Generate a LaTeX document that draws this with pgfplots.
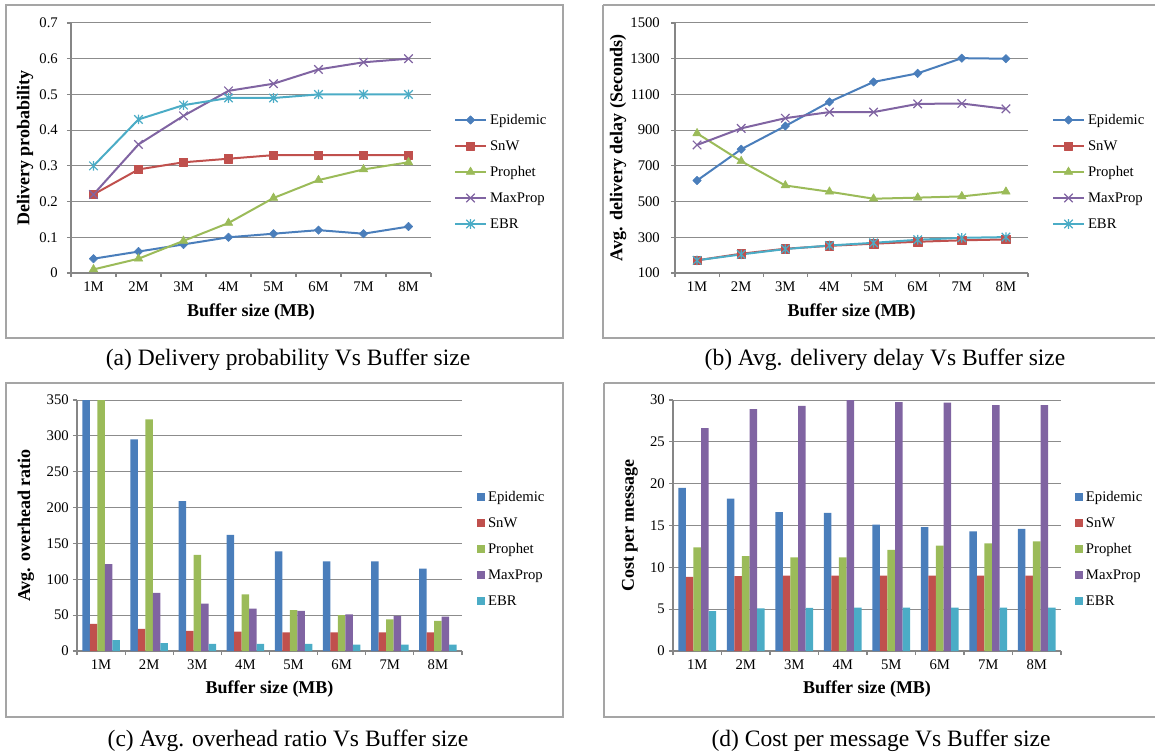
\documentclass[border=0pt]{standalone}
\usepackage{fontspec}
\setmainfont{Liberation Serif}
\usepackage{pgfplots}
\pgfplotsset{compat=1.18}
\usepackage{pgfplotstable}

\definecolor{cEpi}{RGB}{74,126,187}
\definecolor{cSnW}{RGB}{192,80,77}
\definecolor{cPro}{RGB}{155,187,89}
\definecolor{cMax}{RGB}{128,100,162}
\definecolor{cEBR}{RGB}{75,172,198}
\definecolor{axgray}{RGB}{134,134,134}
\definecolor{grgray}{RGB}{140,140,140}
\definecolor{frgray}{RGB}{165,165,165}

\pgfdeclareplotmark{xstar}{%
  \pgfpathmoveto{\pgfqpoint{-.7071\pgfplotmarksize}{-.7071\pgfplotmarksize}}%
  \pgfpathlineto{\pgfqpoint{.7071\pgfplotmarksize}{.7071\pgfplotmarksize}}%
  \pgfpathmoveto{\pgfqpoint{-.7071\pgfplotmarksize}{.7071\pgfplotmarksize}}%
  \pgfpathlineto{\pgfqpoint{.7071\pgfplotmarksize}{-.7071\pgfplotmarksize}}%
  \pgfpathmoveto{\pgfqpoint{0pt}{-.8\pgfplotmarksize}}%
  \pgfpathlineto{\pgfqpoint{0pt}{.8\pgfplotmarksize}}%
  \pgfusepathqstroke}

\newcommand\myTickFont{\rmfamily\mdseries\fontsize{14.7}{17}\selectfont}
\newcommand\myLabFont{\rmfamily\fontsize{18}{21}\selectfont\bfseries}
\newcommand\myCapFont{\rmfamily\fontsize{23.5}{27}\selectfont}

\pgfplotstableread{
x Epi SnW Pro Max EBR
1 0.04 0.22 0.01 0.22 0.30
2 0.06 0.29 0.04 0.36 0.43
3 0.08 0.31 0.09 0.44 0.47
4 0.10 0.32 0.14 0.51 0.49
5 0.11 0.33 0.21 0.53 0.49
6 0.12 0.33 0.26 0.57 0.50
7 0.11 0.33 0.29 0.59 0.50
8 0.13 0.33 0.31 0.60 0.50
}\tabA

\pgfplotstableread{
x Epi SnW Pro Max EBR
1 618 171 882 817 171
2 793 208 726 910 204
3 923 236 590 967 234
4 1058 252 555 1001 254
5 1170 264 516 1001 269
6 1218 275 522 1047 286
7 1303 283 529 1049 297
8 1300 288 555 1019 301
}\tabB

\pgfplotstableread{
x Epi SnW Pro Max EBR
1 380 38 380 121 15
2 295 31 323 81 11
3 209 28 134 66 10
4 162 27 79 59 10
5 139 26 57 56 10
6 125 26 50 51 9
7 125 26 44 49 9
8 115 26 42 48 9
}\tabC

\pgfplotstableread{
x Epi SnW Pro Max EBR
1 19.5 8.85 12.4 26.65 4.78
2 18.2 8.95 11.35 28.9 5.1
3 16.6 9.0 11.2 29.3 5.15
4 16.5 9.0 11.2 30.0 5.18
5 15.1 9.0 12.1 29.75 5.18
6 14.8 9.0 12.6 29.7 5.18
7 14.3 9.0 12.85 29.4 5.18
8 14.6 9.0 13.1 29.4 5.18
}\tabD

\pgfplotsset{
  panel/.style={
    scale only axis, anchor=south west,
    xmin=0.5, xmax=8.5,
    xtick={1,2,3,4,5,6,7,8},
    xticklabels={1M,2M,3M,4M,5M,6M,7M,8M},
    minor xtick={0.5,1.5,2.5,3.5,4.5,5.5,6.5,7.5,8.5},
    major x tick style={draw=none},
    tick align=outside,
    major tick length=4pt, minor tick length=4pt,
    axis x line*=bottom, axis y line*=left,
    axis line style={draw=axgray, line width=1.1pt},
    tick style={draw=axgray, line width=1.1pt},
    ymajorgrids, grid style={draw=grgray, line width=1pt},
    tick label style={font=\myTickFont},
    xticklabel style={anchor=north, inner sep=0pt, yshift=-5pt},
    yticklabel style={anchor=east, inner sep=0pt},
    /pgf/number format/assume math mode=true,
    /pgf/number format/1000 sep={},
    xlabel={Buffer size (MB)},
    label style={font=\myLabFont},
    legend style={draw=none, fill=none, inner sep=0pt, outer sep=0pt,
      row sep=11pt, font=\myTickFont, anchor=west,
      nodes={inner ysep=0pt, text height=12pt, text depth=3pt}},
    legend cell align=left,
  },
  lines/.style={
    legend image code/.code={\draw[##1, mark repeat=2, mark phase=2] plot coordinates {(0pt,0pt) (15.5pt,0pt) (31pt,0pt)};},
    legend style={nodes={inner xsep=3pt}},
    every axis plot/.append style={line width=2pt, line join=round},
  },
  bars/.style={
    ybar=0pt, bar width=0.156,
    legend image code/.code={\begin{scope}[##1]\fill (0pt,-4.2pt) rectangle (8.4pt,4.2pt);\end{scope}},
    legend style={nodes={inner xsep=2.6pt}},
  },
  sEpi/.style={cEpi, mark=square*, mark size=3pt, mark options={solid, rotate=45, fill=cEpi, line width=0.5pt}},
  sSnW/.style={cSnW, mark=square*, mark size=4.2pt, mark options={solid, fill=cSnW, line width=0.5pt}},
  sPro/.style={cPro, mark=triangle*, mark size=5pt, mark options={solid, fill=cPro, line width=0.5pt}},
  sMax/.style={cMax, mark=x, mark size=6pt, mark options={solid, line width=1.2pt}},
  sEBR/.style={cEBR, mark=xstar, mark size=6pt, mark options={solid, line width=1.2pt}},
}

\begin{document}
\begin{tikzpicture}
\path[use as bounding box] (0pt,0pt) rectangle (1155pt,755pt);

% frames
\draw[frgray, line width=1.2pt] (6pt,750pt) rectangle (563pt,417pt);
\draw[frgray, line width=1.2pt] (603pt,750pt) -- (1160pt,750pt);
\draw[frgray, line width=1.2pt] (603pt,750pt) -- (603pt,417pt) -- (1160pt,417pt);
\draw[frgray, line width=1.2pt] (6pt,372pt) rectangle (563pt,38pt);
\draw[frgray, line width=1.2pt] (604pt,372pt) -- (1160pt,372pt);
\draw[frgray, line width=1.2pt] (604pt,372pt) -- (604pt,38pt) -- (1160pt,38pt);

% (a)
\begin{axis}[panel, lines, at={(71pt,482pt)}, width=360pt, height=250pt,
  ymin=0, ymax=0.7, ytick={0,0.1,0.2,0.3,0.4,0.5,0.6,0.7},
  ylabel={Delivery probability},
  xlabel style={at={(axis description cs:0.5,-0.156)}, anchor=center},
  ylabel style={at={(axis description cs:-0.1278,0.5)}, anchor=center},
  yticklabel style={xshift=-9pt},
  legend style={at={(1.064,0.404)}}]
\addplot[sEpi] table[x=x,y=Epi]{\tabA};
\addplot[sSnW] table[x=x,y=SnW]{\tabA};
\addplot[sPro] table[x=x,y=Pro]{\tabA};
\addplot[sMax] table[x=x,y=Max]{\tabA};
\addplot[sEBR] table[x=x,y=EBR]{\tabA};
\legend{Epidemic,SnW,Prophet,MaxProp,EBR}
\end{axis}

% (b)
\begin{axis}[panel, lines, at={(675pt,482pt)}, width=353pt, height=250pt,
  ymin=100, ymax=1500, ytick={100,300,500,700,900,1100,1300,1500},
  ylabel={Avg. delivery delay (Seconds)},
  xlabel style={at={(axis description cs:0.5,-0.156)}, anchor=center},
  ylabel style={at={(axis description cs:-0.1615,0.5)}, anchor=center},
  yticklabel style={xshift=-11pt},
  legend style={at={(1.068,0.404)}}]
\addplot[sEpi] table[x=x,y=Epi]{\tabB};
\addplot[sSnW] table[x=x,y=SnW]{\tabB};
\addplot[sPro] table[x=x,y=Pro]{\tabB};
\addplot[sMax] table[x=x,y=Max]{\tabB};
\addplot[sEBR] table[x=x,y=EBR]{\tabB};
\legend{Epidemic,SnW,Prophet,MaxProp,EBR}
\end{axis}

% (c)
\begin{axis}[panel, bars, at={(77pt,104pt)}, width=385pt, height=251pt,
  ymin=0, ymax=350, ytick={0,50,100,150,200,250,300,350},
  ylabel={Avg. overhead ratio},
  xlabel style={at={(axis description cs:0.5,-0.151)}, anchor=center},
  ylabel style={at={(axis description cs:-0.1325,0.5)}, anchor=center},
  yticklabel style={xshift=-4pt},
  legend style={at={(1.039,0.406)}}]
\addplot[fill=cEpi, draw=none] table[x=x,y=Epi]{\tabC};
\addplot[fill=cSnW, draw=none] table[x=x,y=SnW]{\tabC};
\addplot[fill=cPro, draw=none] table[x=x,y=Pro]{\tabC};
\addplot[fill=cMax, draw=none] table[x=x,y=Max]{\tabC};
\addplot[fill=cEBR, draw=none] table[x=x,y=EBR]{\tabC};
\legend{Epidemic,SnW,Prophet,MaxProp,EBR}
\end{axis}

% (d)
\begin{axis}[panel, bars, at={(673pt,104pt)}, width=388pt, height=251pt,
  ymin=0, ymax=30, ytick={0,5,10,15,20,25,30},
  ylabel={Cost per message},
  xlabel style={at={(axis description cs:0.5,-0.151)}, anchor=center},
  ylabel style={at={(axis description cs:-0.1108,0.5)}, anchor=center},
  yticklabel style={xshift=-4pt},
  legend style={at={(1.036,0.406)}}]
\addplot[fill=cEpi, draw=none] table[x=x,y=Epi]{\tabD};
\addplot[fill=cSnW, draw=none] table[x=x,y=SnW]{\tabD};
\addplot[fill=cPro, draw=none] table[x=x,y=Pro]{\tabD};
\addplot[fill=cMax, draw=none] table[x=x,y=Max]{\tabD};
\addplot[fill=cEBR, draw=none] table[x=x,y=EBR]{\tabD};
\legend{Epidemic,SnW,Prophet,MaxProp,EBR}
\end{axis}

% captions
\node[anchor=base, font=\myCapFont, inner sep=0pt] at (288pt,389pt) {(a) Delivery probability Vs Buffer size};
\node[anchor=base, font=\myCapFont, inner sep=0pt] at (885pt,389pt) {(b) Avg. delivery delay Vs Buffer size};
\node[anchor=base, font=\myCapFont, inner sep=0pt] at (288pt,9pt) {(c) Avg. overhead ratio Vs Buffer size};
\node[anchor=base, font=\myCapFont, inner sep=0pt] at (881pt,9pt) {(d) Cost per message Vs Buffer size};
\end{tikzpicture}
\end{document}
